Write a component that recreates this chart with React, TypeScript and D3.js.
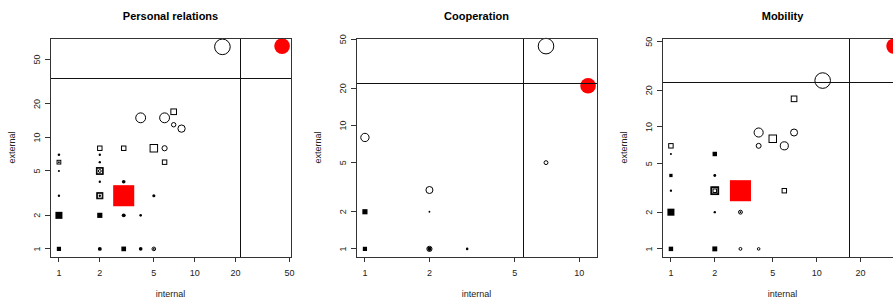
import * as d3 from "d3";

// point = [internal, external, pch, cex]  (pch: 0 open square, 1 open circle, 15 filled square, 16 filled circle)
type Pt = [number, number, number, number];

const TITLES = ["Personal relations", "Cooperation", "Mobility"];
const LOG_TICKS = [1, 2, 5, 10, 20, 50];
const H_CUT = [33.7, 21.8, 23];
const V_CUT = [21.8, 5.5, 16.9];

const personal: Pt[] = [
  [1, 7, 16, 0.5], [1, 6, 0, 0.8], [1, 6, 16, 0.35], [1, 5, 16, 0.4], [1, 3, 16, 0.45],
  [1, 2, 15, 1.5], [1, 1, 15, 0.9],
  [2, 8, 0, 0.95], [2, 7, 16, 0.45], [2, 6, 16, 0.45], [2, 5, 0, 1.45], [2, 5, 0, 1.2], [2, 5, 1, 0.55],
  [2, 4, 16, 0.45], [2, 3, 0, 1.3], [2, 3, 0, 1.05], [2, 3, 16, 0.45], [2, 2, 15, 1.1], [2, 1, 16, 0.75],
  [3, 8, 0, 0.95], [3, 4, 16, 0.7], [3, 2, 16, 0.75], [3, 1, 15, 1.0],
  [4, 15, 1, 1.9], [4, 2, 16, 0.5], [4, 1, 16, 0.7],
  [5, 8, 0, 1.6], [5, 3, 16, 0.6], [5, 1, 1, 0.7], [5, 1, 16, 0.35],
  [6, 15, 1, 1.9], [6, 8, 1, 1.0], [6, 6, 0, 0.95],
  [7, 17, 0, 1.2], [7, 13, 1, 0.85], [8, 12, 1, 1.4],
  [16, 65, 1, 3.0],
];
const personalFocal: Pt[] = [[3, 3, 15, 4.5], [44, 66, 16, 3.0]];

const cooperation: Pt[] = [
  [1, 8, 1, 1.6], [1, 2, 15, 1.1], [1, 1, 15, 0.9],
  [2, 3, 1, 1.35], [2, 2, 16, 0.35], [2, 1, 1, 1.0], [2, 1, 16, 0.8],
  [3, 1, 16, 0.5],
  [7, 5, 1, 0.75], [7, 44, 1, 3.0],
];
const cooperationFocal: Pt[] = [[11, 21, 16, 3.0]];

const mobility: Pt[] = [
  [1, 7, 0, 0.95], [1, 6, 16, 0.4], [1, 4, 15, 0.7], [1, 3, 16, 0.45], [1, 2, 15, 1.5], [1, 1, 15, 0.95],
  [2, 6, 15, 0.95], [2, 4, 16, 0.55], [2, 3, 0, 1.65], [2, 3, 0, 1.5], [2, 3, 0, 1.35], [2, 3, 0, 0.75],
  [2, 2, 16, 0.45], [2, 1, 15, 1.05],
  [3, 2, 1, 0.75], [3, 2, 16, 0.35], [3, 1, 1, 0.55],
  [4, 9, 1, 1.75], [4, 7, 1, 0.95], [4, 1, 1, 0.5],
  [5, 8, 0, 1.6], [6, 7, 1, 1.55], [6, 3, 0, 0.95],
  [7, 9, 1, 1.35], [7, 17, 0, 1.2],
  [11, 24, 1, 3.0],
];
const mobilityFocal: Pt[] = [[3, 3, 15, 4.5], [34, 46, 16, 3.0]];

const PANELS = [
  { pts: personal, focal: personalFocal },
  { pts: cooperation, focal: cooperationFocal },
  { pts: mobility, focal: mobilityFocal },
];

const W = 893;
const H = 305;
const LEFT0 = 50;
const STEP = 306;
const BOX_W = 241;
const TOP = 38;
const BOTTOM = 257;
const FONT = "'Liberation Sans', Arial, Helvetica, sans-serif";

// R style log range: data extent padded 4% on each side
function padLog(vals: number[]): [number, number] {
  const lo = Math.log10(d3.min(vals) ?? 1);
  const hi = Math.log10(d3.max(vals) ?? 10);
  const d = hi - lo;
  return [Math.pow(10, lo - 0.04 * d), Math.pow(10, hi + 0.04 * d)];
}

const size = d3.scaleLinear().domain([0, 1]).range([0, 2.6]);

function Marker({ p, x, y, col }: { p: Pt; x: d3.ScaleLogarithmic<number, number>; y: d3.ScaleLogarithmic<number, number>; col: string }) {
  const cx = x(p[0]);
  const cy = y(p[1]);
  const r = size(p[3]);
  const h = r * 0.9;
  switch (p[2]) {
    case 0:
      return <rect x={cx - h} y={cy - h} width={2 * h} height={2 * h} fill="none" stroke={col} strokeWidth={1} />;
    case 1:
      return <circle cx={cx} cy={cy} r={r} fill="none" stroke={col} strokeWidth={1} />;
    case 15:
      return <rect x={cx - h} y={cy - h} width={2 * h} height={2 * h} fill={col} />;
    default:
      return <circle cx={cx} cy={cy} r={r} fill={col} />;
  }
}

function Panel({ i }: { i: number }) {
  const { pts, focal } = PANELS[i];
  const all = pts.concat(focal);
  const left = LEFT0 + i * STEP;
  const x = d3.scaleLog().domain(padLog(all.map((p) => p[0]))).range([left, left + BOX_W]);
  const y = d3.scaleLog().domain(padLog(all.map((p) => p[1]))).range([BOTTOM, TOP]);
  const [x0, x1] = x.domain();
  const [y0, y1] = y.domain();
  const xt = LOG_TICKS.filter((t) => t >= x0 && t <= x1);
  const yt = LOG_TICKS.filter((t) => t >= y0 && t <= y1);
  const cx = left + BOX_W / 2;
  const cy = (TOP + BOTTOM) / 2;

  return (
    <g>
      <text x={cx} y={20} textAnchor="middle" fontSize={11} fontWeight="bold" fill="#000">
        {TITLES[i]}
      </text>

      {/* axes: line only between first and last tick, like R */}
      <g stroke="#333" strokeWidth={1} shapeRendering="crispEdges">
        <line x1={x(xt[0])} x2={x(xt[xt.length - 1])} y1={BOTTOM} y2={BOTTOM} />
        {xt.map((t) => (
          <line key={t} x1={x(t)} x2={x(t)} y1={BOTTOM} y2={BOTTOM + 5} />
        ))}
        <line x1={left} x2={left} y1={y(yt[0])} y2={y(yt[yt.length - 1])} />
        {yt.map((t) => (
          <line key={t} x1={left} x2={left - 5} y1={y(t)} y2={y(t)} />
        ))}
      </g>
      <g fontSize={9} fill="#222">
        {xt.map((t) => (
          <text key={t} x={x(t)} y={275.5} textAnchor="middle">
            {t}
          </text>
        ))}
        {yt.map((t) => (
          <text key={t} x={left - 10} y={y(t)} textAnchor="middle" transform={`rotate(-90,${left - 10},${y(t)})`}>
            {t}
          </text>
        ))}
        <text x={cx} y={297} textAnchor="middle">internal</text>
        <text x={left - 35} y={cy} textAnchor="middle" transform={`rotate(-90,${left - 35},${cy})`}>
          external
        </text>
      </g>

      {pts.map((p, k) => (
        <Marker key={k} p={p} x={x} y={y} col="#000" />
      ))}
      {focal.map((p, k) => (
        <Marker key={"f" + k} p={p} x={x} y={y} col="#ff0000" />
      ))}

      <g stroke="#111" strokeWidth={1} shapeRendering="crispEdges">
        <line x1={left} x2={left + BOX_W} y1={y(H_CUT[i])} y2={y(H_CUT[i])} />
        <line x1={x(V_CUT[i])} x2={x(V_CUT[i])} y1={TOP} y2={BOTTOM} />
      </g>
      <rect x={left} y={TOP} width={BOX_W} height={BOTTOM - TOP} fill="none" stroke="#333" strokeWidth={1} shapeRendering="crispEdges" />
    </g>
  );
}

export default function App() {
  return (
    <svg
      width={W}
      height={H}
      viewBox={`0 0 ${W} ${H}`}
      style={{ position: "absolute", left: 0, top: 0, background: "#fff", fontFamily: FONT }}
    >
      <rect width={W} height={H} fill="#fff" />
      {PANELS.map((_, i) => (
        <Panel key={i} i={i} />
      ))}
    </svg>
  );
}
